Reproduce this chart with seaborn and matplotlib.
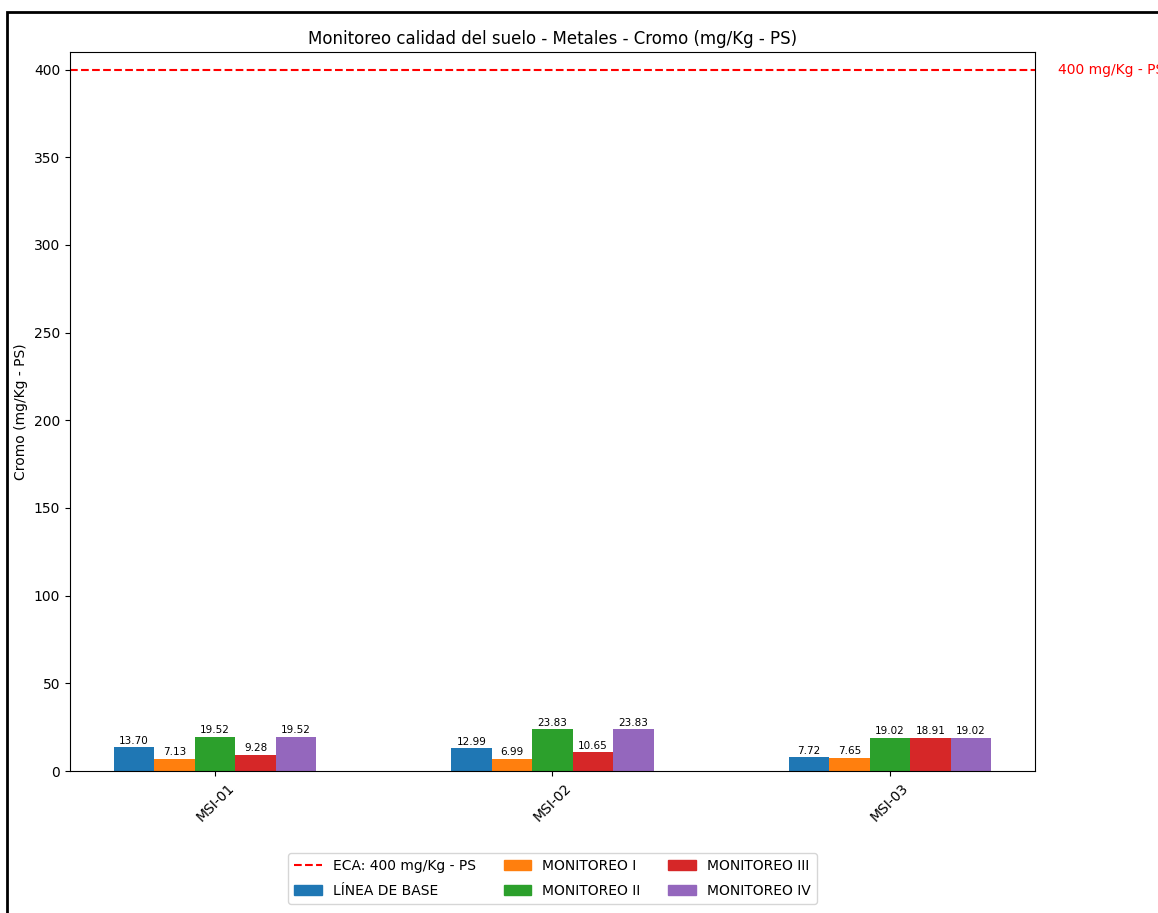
import matplotlib
matplotlib.use('Agg')
import matplotlib.pyplot as plt
from matplotlib.lines import Line2D
from matplotlib.patches import Rectangle
import pandas as pd
import seaborn as sns

# Data.
stations = ['MSI-01', 'MSI-02', 'MSI-03']
campaigns = ['LÍNEA DE BASE', 'MONITOREO I', 'MONITOREO II',
             'MONITOREO III', 'MONITOREO IV']
linea_base = [13.70, 12.99, 7.72]
monitoreo_1 = [7.13, 6.99, 7.65]
monitoreo_2 = [19.52, 23.83, 19.02]
monitoreo_3 = [9.28, 10.65, 18.91]
monitoreo_4 = [19.52, 23.83, 19.02]
eca_limit = 400

colors = ['#1f77b4', '#ff7f0e', '#2ca02c', '#d62728', '#9467bd']

series = [linea_base, monitoreo_1, monitoreo_2, monitoreo_3, monitoreo_4]
rows = []
for campaign, values in zip(campaigns, series):
    for station, value in zip(stations, values):
        rows.append({'Estacion': station, 'Campana': campaign, 'Valor': value})
df = pd.DataFrame(rows)

fig = plt.figure(figsize=(11.58, 9.13), dpi=100)
ax = fig.add_axes([0.0604, 0.1555, 0.8334, 0.7875])

sns.barplot(data=df, x='Estacion', y='Valor', hue='Campana',
            hue_order=campaigns, palette=colors, width=0.6, gap=0,
            saturation=1, errorbar=None, ax=ax, legend=False)

for container in ax.containers:
    ax.bar_label(container, fmt='%.2f', fontsize=7.5, padding=1)

ax.axhline(eca_limit, color='red', linestyle='--', linewidth=1.5)
ax.text(1.024, eca_limit, '400 mg/Kg - PS', color='red', fontsize=10,
        va='center', ha='left', transform=ax.get_yaxis_transform(),
        clip_on=False)

ax.set_xlim(-0.43, 2.43)
ax.set_ylim(0, 410)
ax.set_xlabel('')
ax.set_ylabel('Cromo (mg/Kg - PS)', fontsize=10)
ax.set_title('Monitoreo calidad del suelo - Metales - Cromo (mg/Kg - PS)',
             fontsize=12)
ax.tick_params(axis='both', labelsize=10)
plt.setp(ax.get_xticklabels(), rotation=45)

handles = [Line2D([0], [0], color='red', linestyle='--', linewidth=1.5)]
handles += [Rectangle((0, 0), 1, 1, color=c) for c in colors]
labels = ['ECA: 400 mg/Kg - PS'] + campaigns
ax.legend(handles, labels, loc='upper center', bbox_to_anchor=(0.5, -0.105),
          ncol=3, fontsize=10, labelspacing=0.8, frameon=True)

# Outer frame seen around the reference screenshot.
fig.patches.append(Rectangle((0.006, -0.1), 1.2, 1.087, transform=fig.transFigure,
                             fill=False, edgecolor='black', linewidth=2))

fig.savefig('out.png', dpi=100)
